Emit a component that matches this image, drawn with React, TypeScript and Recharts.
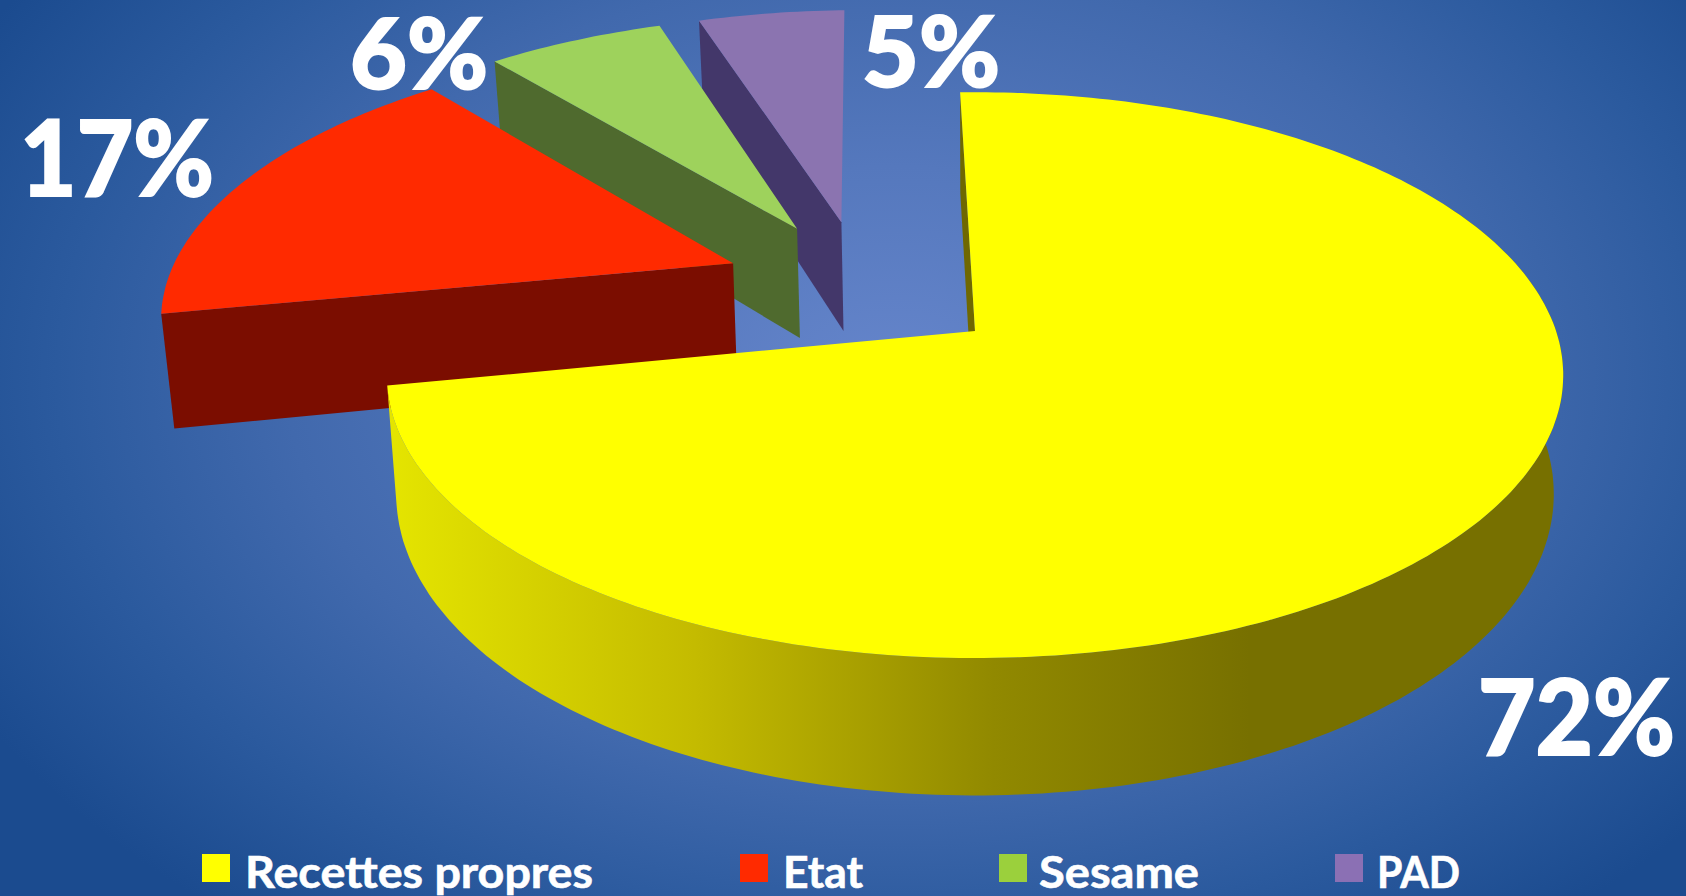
import { PieChart, Pie, Legend } from 'recharts';

// back-to-front, so the yellow slice is painted last
const categories = ['PAD', 'Sesame', 'Etat', 'Recettes propres'];
const shares = [4.9, 5.9, 16.8, 72.4];
const topColors = ['#8b74b0', '#9ed25c', '#ff2a00', '#ffff00'];
const wallColors = ['#43376a', '#4f6a2e', '#7b0d00', '#6f6800'];
const legendColors = ['#8b70b4', '#9bd03c', '#ff2a00', '#ffff00'];

// how far each slice is pulled out, in disc radii on the ground plane
const explodeX = [-0.245, -0.325, -0.433, 0];
const explodeY = [0.42, 0.393, 0.255, 0];

const W = 1686;
const H = 896;
const CX = 975;
const CY = 331;
const RX = 581;
const RY = 276;
const PERSP = 0.156;
const DEPTH = 116;

const labelSpots: Record<string, { x: number; y: number; w: number; size: number }> = {
  'Recettes propres': { x: 1478, y: 755, w: 197, size: 105 },
  Etat: { x: 20, y: 196, w: 194, size: 105 },
  Sesame: { x: 350, y: 89, w: 138, size: 98 },
  PAD: { x: 862, y: 87, w: 138, size: 98 },
};

const legendSpots = [
  { name: 'Recettes propres', box: 202, text: 245, w: 348 },
  { name: 'Etat', box: 740, text: 783, w: 80 },
  { name: 'Sesame', box: 999, text: 1039, w: 160 },
  { name: 'PAD', box: 1335, text: 1377, w: 83 },
];

const data = categories.map((name, i) => ({ name, value: shares[i], fill: topColors[i] }));

// ground plane -> screen, with a bit of perspective
function project(u: number, v: number, low = false) {
  const w = 1 + PERSP * v;
  const sx = (RX * u) / w;
  const sy = (-RY * v) / w;
  return low
    ? [CX + sx * 0.984, CY + sy + DEPTH / w]
    : [CX + sx, CY + sy];
}

const toPath = (pts: number[][]) =>
  'M' + pts.map((p) => `${p[0].toFixed(1)},${p[1].toFixed(1)}`).join('L') + 'Z';

function Slice3D(props: any) {
  const i = categories.indexOf(props.name);
  const from = 90 - props.endAngle; // clockwise from the top
  const to = 90 - props.startAngle;
  const ox = explodeX[i];
  const oy = explodeY[i];
  const rim = (deg: number, low = false) => {
    const a = (deg * Math.PI) / 180;
    return project(ox + Math.sin(a), oy + Math.cos(a), low);
  };
  const top: number[][] = [project(ox, oy)];
  const outerTop: number[][] = [];
  const outerLow: number[][] = [];
  for (let d = from; d <= to + 0.01; d += 1) {
    top.push(rim(d));
    // only the front of the big slice shows its rim
    if (d > 60) {
      outerTop.push(rim(d));
      outerLow.unshift(rim(d, true));
    }
  }
  top.push(rim(to));
  const sideWall = [project(ox, oy), rim(from), rim(from, true), project(ox, oy, true)];
  const isMain = i === categories.length - 1;
  return (
    <g>
      <path d={toPath(sideWall)} fill={wallColors[i]} />
      {isMain && <path d={toPath([...outerTop, rim(to), rim(to, true), ...outerLow])} fill="url(#wallShade)" />}
      <path d={toPath(top)} fill={topColors[i]} />
    </g>
  );
}

function renderLabel(props: any) {
  const spot = labelSpots[props.name];
  return (
    <text
      key={props.name}
      x={spot.x}
      y={spot.y}
      textLength={spot.w}
      lengthAdjust="spacingAndGlyphs"
      fill="#ffffff"
      stroke="#ffffff"
      strokeWidth={2}
      textAnchor="start"
      fontFamily="Lato, sans-serif"
      fontWeight={900}
      fontSize={spot.size}
    >
      {`${Math.round(props.value)}%`}
    </text>
  );
}

function LegendRow() {
  return (
    <svg width={W} height={H} style={{ display: 'block' }}>
      {legendSpots.map((it) => (
        <g key={it.name}>
          <rect
            x={it.box}
            y={854}
            width={28}
            height={28}
            fill={legendColors[categories.indexOf(it.name)]}
          />
          <text
            x={it.text}
            y={888}
            textLength={it.w}
            lengthAdjust="spacingAndGlyphs"
            fill="#ffffff"
            stroke="#ffffff"
            strokeWidth={0.6}
            fontFamily="Lato, sans-serif"
            fontWeight={700}
            fontSize={43}
          >
            {it.name}
          </text>
        </g>
      ))}
    </svg>
  );
}

export default function App() {
  return (
    <div
      style={{
        position: 'absolute',
        left: 0,
        top: 0,
        width: W,
        height: H,
        overflow: 'hidden',
        background:
          'radial-gradient(ellipse 62% 78% at 53% 42%, #6585cb 0%, #5578bd 30%, #4169ad 58%, #2b5a9e 80%, #1b4b8f 100%)',
      }}
    >
      <PieChart width={W} height={H} margin={{ top: 0, right: 0, bottom: 0, left: 0 }}>
        <defs>
          <linearGradient id="wallShade" gradientUnits="userSpaceOnUse" x1={395} y1={0} x2={1250} y2={0}>
            <stop offset="0%" stopColor="#e4e400" />
            <stop offset="35%" stopColor="#c4bb00" />
            <stop offset="70%" stopColor="#918900" />
            <stop offset="100%" stopColor="#777000" />
          </linearGradient>
        </defs>
        <Legend
          content={<LegendRow />}
          wrapperStyle={{ position: 'absolute', left: 0, top: 0, width: W, height: H, pointerEvents: 'none' }}
        />
        <Pie
          data={data}
          dataKey="value"
          nameKey="name"
          cx={CX}
          cy={CY}
          innerRadius={0}
          outerRadius={RX}
          startAngle={-268.3}
          endAngle={91.7}
          stroke="none"
          shape={Slice3D}
          label={renderLabel}
          labelLine={false}
          isAnimationActive={false}
        />
      </PieChart>
    </div>
  );
}
